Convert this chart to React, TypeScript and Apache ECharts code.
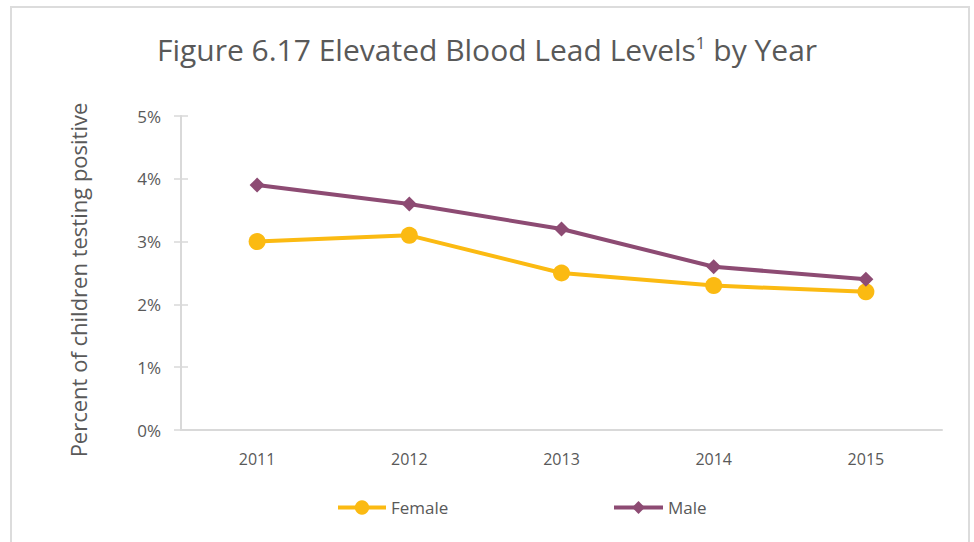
import React, { useEffect, useRef } from "react";
import * as echarts from "echarts";

const years = ["2011", "2012", "2013", "2014", "2015"];
const female = [3.0, 3.1, 2.5, 2.3, 2.2];
const male = [3.9, 3.6, 3.2, 2.6, 2.4];
const yTicks = { min: 0, max: 5, interval: 1 };

const FONT = "'Open Sans', 'Noto Sans', sans-serif";
const FEMALE_COLOR = "#FBBA12";
const MALE_COLOR = "#8D4B73";
const TEXT = "#595959";
const AXIS = "#d9d9d9";

export default function App() {
  const ref = useRef<HTMLDivElement>(null);
  useEffect(() => {
    const chart = echarts.init(ref.current!, undefined, { renderer: "svg" });
    chart.setOption({
      animation: false,
      backgroundColor: "#ffffff",
      title: {
        text: "{t|Figure 6.17 Elevated Blood Lead Levels}{s|1}{t| by Year}",
        left: "center",
        top: 29,
        textStyle: {
          rich: {
            t: { fontFamily: FONT, fontSize: 30, fontWeight: "normal", color: TEXT, verticalAlign: "bottom" },
            s: { fontFamily: FONT, fontSize: 17, fontWeight: "normal", color: TEXT, verticalAlign: "top", padding: [0, 0, 12, 0] },
          },
        },
      },
      graphic: [
        {
          type: "rect",
          shape: { x: 11, y: 7, width: 958, height: 560 },
          style: { fill: "none", stroke: "#dcdcdc", lineWidth: 2 },
          silent: true,
        },
      ],
      legend: [
        {
          data: ["Female"],
          left: 336,
          top: 499,
          padding: 0,
          itemWidth: 48,
          itemHeight: 18,
          itemGap: 0,
          lineStyle: { width: 4 },
          textStyle: { fontFamily: FONT, fontSize: 17, color: TEXT },
        },
        {
          data: ["Male"],
          left: 612,
          top: 499,
          padding: 0,
          itemWidth: 49,
          itemHeight: 16,
          itemGap: 0,
          lineStyle: { width: 4 },
          textStyle: { fontFamily: FONT, fontSize: 17, color: TEXT },
        },
      ],
      grid: { left: 181, right: 32, top: 116, bottom: 112 },
      xAxis: {
        type: "category",
        data: years,
        boundaryGap: true,
        axisLine: { lineStyle: { color: AXIS, width: 2 } },
        axisTick: { show: false },
        axisLabel: { fontFamily: FONT, fontSize: 16, color: TEXT, margin: 21 },
      },
      yAxis: [
        {
          type: "value",
          min: yTicks.min,
          max: yTicks.max,
          interval: yTicks.interval,
          name: "Percent of children testing positive",
          nameLocation: "middle",
          nameGap: 92,
          nameTextStyle: { fontFamily: FONT, fontSize: 22, color: TEXT, padding: [0, 14, 0, 0] },
          axisLine: { show: true, lineStyle: { color: AXIS, width: 2 } },
          axisTick: { show: true, length: 7, lineStyle: { color: AXIS, width: 1.5 } },
          splitLine: { show: false },
          axisLabel: { fontFamily: FONT, fontSize: 17, color: TEXT, margin: 20, formatter: "{value}%" },
        },
        {
          type: "value",
          position: "left",
          min: yTicks.min,
          max: yTicks.max,
          interval: yTicks.interval,
          axisLine: { show: false },
          axisTick: { show: true, inside: true, length: 7, lineStyle: { color: AXIS, width: 1.5 } },
          splitLine: { show: false },
          axisLabel: { show: false },
        },
      ],
      series: [
        {
          name: "Female",
          type: "line",
          data: female,
          symbol: "circle",
          symbolSize: 17,
          itemStyle: { color: FEMALE_COLOR },
          lineStyle: { color: FEMALE_COLOR, width: 4 },
        },
        {
          name: "Male",
          type: "line",
          data: male,
          symbol: "diamond",
          symbolSize: 15,
          itemStyle: { color: MALE_COLOR },
          lineStyle: { color: MALE_COLOR, width: 4 },
        },
      ],
    });
    return () => chart.dispose();
  }, []);
  return (
    <div
      ref={ref}
      style={{ position: "absolute", left: 0, top: 0, width: 974, height: 542 }}
    />
  );
}
